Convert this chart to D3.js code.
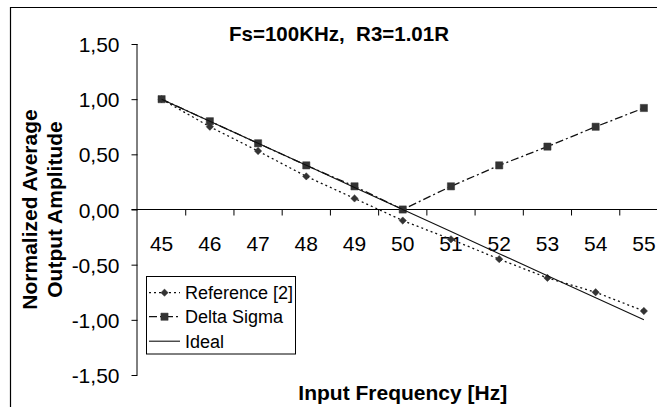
<!DOCTYPE html>
<html><head><meta charset="utf-8">
<script src="https://cdn.jsdelivr.net/npm/d3@7"></script>
<style>
html,body{margin:0;padding:0;background:#fff;}
svg{display:block;font-family:"Liberation Sans",Arial,sans-serif;}
</style></head>
<body>
<svg id="chart" width="657" height="407"></svg>
<script>
const categories = ["45","46","47","48","49","50","51","52","53","54","55"];
const referenceValues = [1.00, 0.75, 0.53, 0.30, 0.10, -0.10, -0.27, -0.45, -0.62, -0.75, -0.92];
const deltaSigmaValues = [1.00, 0.80, 0.60, 0.40, 0.21, 0.00, 0.21, 0.40, 0.57, 0.75, 0.92];
const idealValues = [1.00, 0.80, 0.60, 0.40, 0.20, 0.00, -0.20, -0.40, -0.60, -0.80, -1.00];
const yTickValues = [-1.5, -1.0, -0.5, 0, 0.5, 1.0, 1.5];
const titleText = "Fs=100KHz,  R3=1.01R";
const xTitle = "Input Frequency [Hz]";
const yTitleLines = ["Normalized Average", "Output Amplitude"];
const legendNames = ["Reference [2]", "Delta Sigma", "Ideal"];

(function () {
const svg = d3.select("#chart");
const pL = 137.5, pR = 668, pT = 44, pB = 375;
const x = d3.scaleBand().domain(categories).range([pL, pR]).padding(0);
const y = d3.scaleLinear().domain([-1.5, 1.5]).range([pB, pT]);
const cx = c => x(c) + x.bandwidth() / 2;

// outer frame
svg.append("path").attr("d", `M10.5,${407+5} V7.5 H${657+5}`)
  .attr("fill", "none").attr("stroke", "#000").attr("stroke-width", 1.2);

// title
svg.append("text").attr("x", 339).attr("y", 41).attr("text-anchor", "middle")
  .attr("font-size", 20.5).attr("font-weight", "bold").style("white-space", "pre").text(titleText);

// y axis
const yAxis = d3.axisLeft(y).tickValues(yTickValues).tickSize(6).tickPadding(12)
  .tickFormat(d => d3.format(".2f")(d).replace(".", ",").replace("−", "-"));
const gy = svg.append("g").attr("transform", `translate(${pL},0)`).call(yAxis);
gy.select(".domain").attr("d", `M-0.5,${pT}V${pB}`).attr("stroke", "#000");
gy.selectAll(".tick line").attr("stroke", "#000");
gy.selectAll(".tick text").attr("font-size", 21).attr("fill", "#000")
  .attr("font-family", "Liberation Sans, Arial, sans-serif").attr("dy", "0.36em");

// x axis at y=0
const xAxis = d3.axisBottom(x).tickSize(0).tickPadding(0);
const gx = svg.append("g").attr("transform", `translate(0,${y(0)})`).call(xAxis);
gx.select(".domain").attr("d", `M${pL - 6},0H${pR}`).attr("stroke", "#000");
gx.selectAll(".tick text").attr("font-size", 21).attr("fill", "#000")
  .attr("font-family", "Liberation Sans, Arial, sans-serif").attr("y", 41).attr("dy", 0);
gx.selectAll(".between").data(categories.slice(1)).enter().append("line")
  .attr("x1", d => x(d)).attr("x2", d => x(d)).attr("y1", 0).attr("y2", 6)
  .attr("stroke", "#000");

// axis titles
svg.append("text").attr("x", (pL + pR) / 2).attr("y", 399.5).attr("text-anchor", "middle")
  .attr("font-size", 21).attr("font-weight", "bold").text(xTitle);
const yMid = (pT + pB) / 2;
svg.append("text").attr("transform", `translate(37,${yMid}) rotate(-90)`).attr("text-anchor", "middle")
  .attr("font-size", 21).attr("font-weight", "bold").text(yTitleLines[0]);
svg.append("text").attr("transform", `translate(62,${yMid}) rotate(-90)`).attr("text-anchor", "middle")
  .attr("font-size", 21).attr("font-weight", "bold").text(yTitleLines[1]);

// series
const line = d3.line().x((d, i) => cx(categories[i])).y(d => y(d));
const series = [
  {name: legendNames[0], values: referenceValues, dash: "2,3", width: 1.3, marker: "diamond"},
  {name: legendNames[1], values: deltaSigmaValues, dash: "8,3,2,3", width: 1.3, marker: "square"},
  {name: legendNames[2], values: idealValues, dash: null, width: 1.1, marker: null}
];
const diamond = d3.symbol().type(d3.symbolDiamond2).size(34);
const square = d3.symbol().type(d3.symbolSquare).size(52);
const markerSym = m => m === "diamond" ? diamond() : square();

series.forEach(s => {
  svg.append("path").datum(s.values).attr("d", line).attr("fill", "none")
    .attr("stroke", "#111").attr("stroke-width", s.width)
    .attr("stroke-dasharray", s.dash);
  if (s.marker) {
    svg.selectAll(null).data(s.values).enter().append("path")
      .attr("d", markerSym(s.marker))
      .attr("transform", (d, i) => `translate(${cx(categories[i])},${y(d)})`)
      .attr("fill", "#333").attr("stroke", "#333").attr("stroke-width", 0.5);
  }
});

// legend
const lg = svg.append("g");
lg.append("rect").attr("x", 146.5).attr("y", 276.5).attr("width", 149).attr("height", 77.5)
  .attr("fill", "#fff").attr("stroke", "#000").attr("stroke-width", 1);
const rowY = [292.7, 316.7, 341.2];
series.forEach((s, i) => {
  lg.append("line").attr("x1", 149).attr("x2", 180).attr("y1", rowY[i]).attr("y2", rowY[i])
    .attr("stroke", "#111").attr("stroke-width", s.width).attr("stroke-dasharray", s.dash);
  if (s.marker) {
    lg.append("path").attr("d", markerSym(s.marker))
      .attr("transform", `translate(164.5,${rowY[i]})`).attr("fill", "#333").attr("stroke", "#333").attr("stroke-width", 0.5);
  }
  lg.append("text").attr("x", 185).attr("y", rowY[i] + 6.5).attr("font-size", 18).text(s.name);
});
})();
</script>
</body></html>
